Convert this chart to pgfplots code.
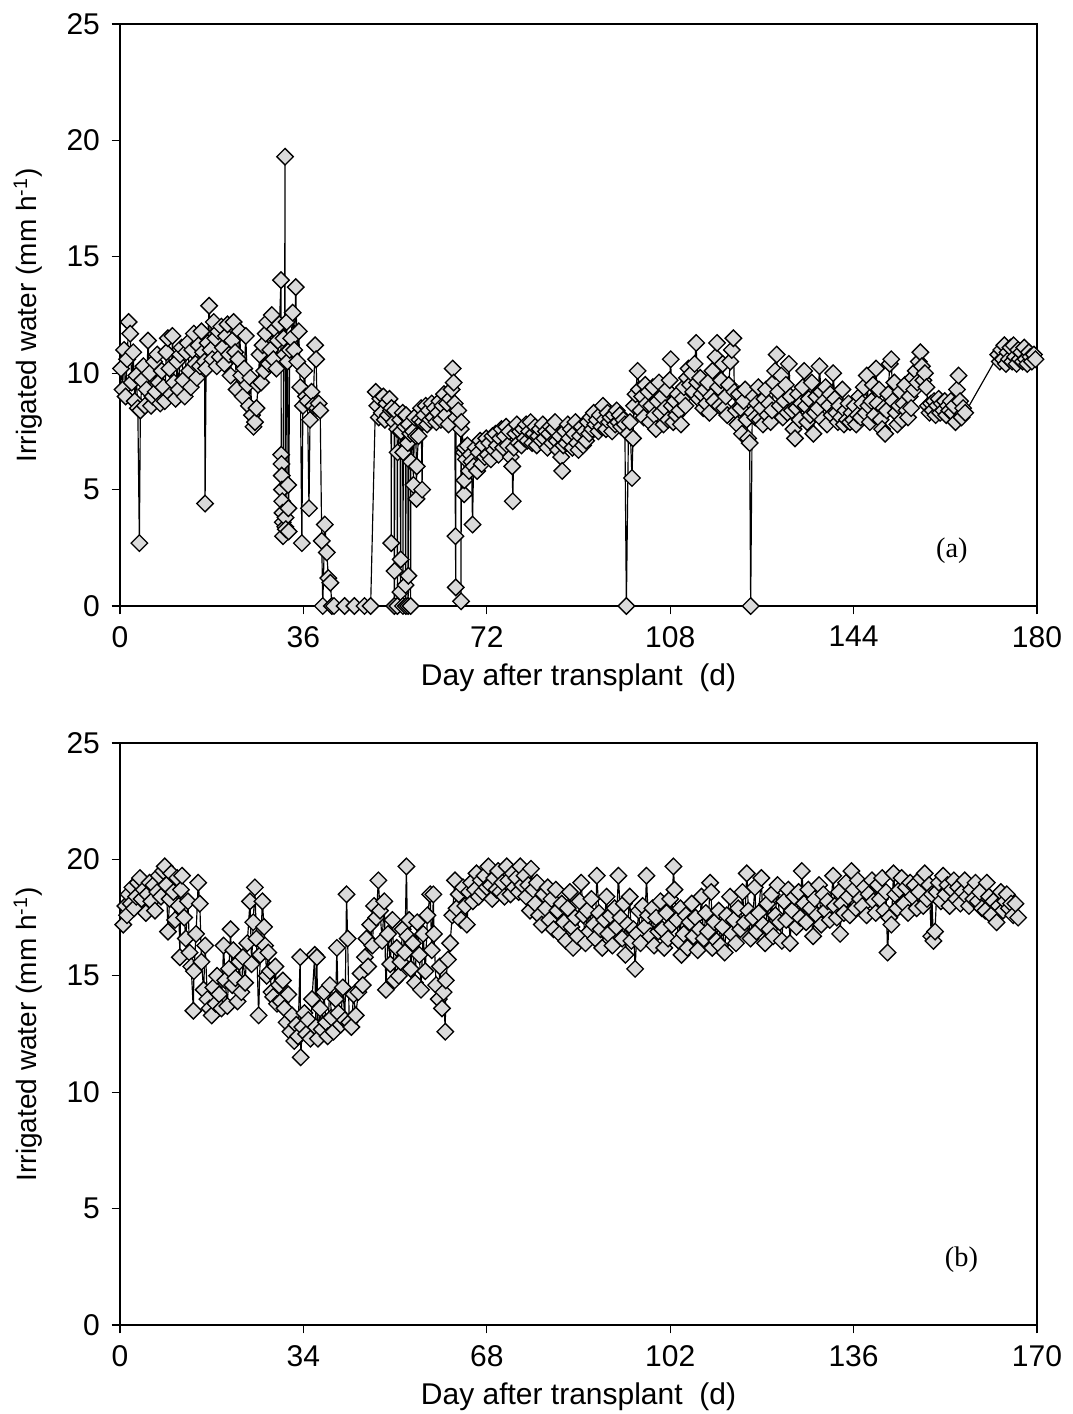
\documentclass[border=0pt]{standalone}
\usepackage{fontspec}
\setmainfont{Liberation Sans}
\newfontfamily\timesfont{Liberation Serif}
\usepackage{pgfplots}
\pgfplotsset{compat=1.18}
\definecolor{mk}{HTML}{DADADA}
\pgfplotsset{
  panel/.style={
    scale only axis, width=275.1pt, height=174.6pt,
    xmin=0, ymin=0, ymax=25, ytick={0,5,...,25},
    tick align=outside, xtick pos=bottom, ytick pos=left,
    major tick length=2.5pt,
    axis line style={line width=0.4pt},
    tick style={line width=0.4pt, black},
    ticklabel style={font=\fontsize{9}{10}\selectfont},
    /pgf/number format/assume math mode=true,
    xlabel={Day after transplant\ \ (d)},
    ylabel={Irrigated water (mm h\textsuperscript{-1})},
    xlabel style={font=\fontsize{9}{10}\selectfont, inner sep=0pt, at={(axis description cs:0.5,-0.1237)}, anchor=center},
    ylabel style={font=\fontsize{8.4}{10}\selectfont, inner sep=0pt, at={(axis description cs:-0.1003,0.5)}, anchor=center},
    clip=false,
  },
  series/.style={black, line width=0.35pt, mark=square*, mark size=1.75pt,
    mark options={rotate=45, fill=mk, draw=black, line width=0.4pt}},
}
\begin{document}
\begin{tikzpicture}
\useasboundingbox (-36pt,7.2pt) rectangle (285.9pt,-417pt);
% (a)
\begin{axis}[panel, at={(0,0)}, anchor=north west, xmax=180, xtick={0,36,...,180}]
\addplot[series] coordinates {
(0.2,10.2)(0.5,9.3)(0.8,11.0)(1.1,9.0)(1.4,10.6)(1.7,12.2)(2.0,11.7)(2.3,9.6)(2.6,10.9)(2.9,8.8)(3.2,9.9)(3.5,8.5)(3.8,2.7)(4.0,8.4)(4.3,9.7)(4.6,10.3)(4.9,8.6)(5.2,9.3)(5.5,11.4)(5.8,10.0)(6.1,8.6)(6.4,9.0)(6.7,10.5)(7.0,9.2)(7.3,10.8)(7.6,9.6)(7.9,8.7)(8.2,10.1)(8.5,9.4)(8.8,8.8)(9.1,10.9)(9.4,11.5)(9.7,10.2)(10.0,9.1)(10.3,11.6)(10.6,9.6)(10.9,8.9)(11.2,10.5)(11.5,9.3)(11.8,10.8)(12.1,11.1)(12.4,9.7)(12.7,9.0)(13.0,10.9)(13.3,11.3)(13.6,10.1)(13.9,9.4)(14.2,11.0)(14.5,11.7)(14.8,10.4)(15.1,9.8)(15.4,11.2)(15.7,10.3)(16.0,11.8)(16.3,10.9)(16.6,10.5)(16.7,4.4)(16.9,10.2)(17.2,11.3)(17.5,12.9)(17.8,11.0)(18.1,10.6)(18.4,12.2)(18.7,11.5)(19.0,10.3)(19.3,11.8)(19.6,10.7)(19.9,12.0)(20.2,11.1)(20.5,10.4)(20.8,11.6)(21.1,12.1)(21.4,10.8)(21.7,9.9)(22.0,11.4)(22.3,12.2)(22.6,10.9)(22.9,9.3)(23.2,10.6)(23.5,11.8)(23.8,9.9)(24.1,9.0)(24.4,10.2)(24.7,11.6)(25.0,9.5)(25.3,8.6)(25.6,9.8)(25.9,8.2)(26.2,7.7)(26.5,7.9)(26.8,8.5)(27.1,9.5)(27.4,10.8)(27.7,9.6)(28.0,11.2)(28.3,10.1)(28.6,11.7)(28.9,12.2)(29.2,10.4)(29.5,11.0)(29.8,12.5)(30.1,10.6)(30.4,11.9)(30.7,10.2)(31.0,11.4)(31.3,12.1)
(31.6,14.0)(31.65,6.5)(31.7,6.1)(31.75,5.6)(31.8,5.0)(31.85,4.5)(31.9,4.0)(31.95,3.6)(32.0,3.0)(32.1,11.5)(32.3,10.8)(32.4,19.3)(32.45,3.4)(32.5,3.8)(32.55,3.3)(32.7,12.2)(32.9,10.5)(33.0,5.2)(33.05,4.2)(33.1,3.2)(33.3,11.0)(33.6,11.5)(33.9,12.6)(34.2,11.0)(34.5,13.7)(34.8,10.5)(35.1,11.8)(35.4,9.4)(35.7,2.7)(35.9,8.6)(36.2,10.1)(36.5,9.0)(36.8,8.8)(37.1,4.2)(37.3,8.0)(37.6,9.2)(37.9,8.6)
(38.3,11.2)(38.5,10.6)(38.7,8.5)(39.0,8.7)(39.3,8.4)(39.6,2.8)(39.8,0.0)(40.2,3.5)(40.6,2.3)(40.9,1.2)(41.3,1.0)(41.6,0.0)(42.0,0.0)(44.1,0.0)(46.0,0.0)(48.0,0.0)(49.2,0.0)
(50.2,9.2)(50.5,8.6)(50.8,8.1)(51.1,8.9)(51.4,8.3)(51.7,9.0)(52.0,8.0)(52.3,8.7)(52.6,8.2)(52.9,8.9)(53.2,8.4)(53.25,2.7)(53.3,8.5)(53.8,7.9)(53.85,0.0)(53.9,1.5)(53.95,8.4)(54.4,7.6)(54.45,0.0)(54.5,6.6)(55.0,8.0)(55.05,0.6)(55.1,2.0)(55.15,7.5)(55.5,8.3)(55.55,0.0)(55.6,6.6)(56.0,7.7)(56.05,0.9)(56.1,0.0)(56.15,8.2)(56.5,7.0)(56.55,0.0)(56.6,1.3)(56.65,7.8)(57.0,7.4)(57.05,0.0)(57.1,6.2)(57.5,7.5)(57.6,5.2)(57.8,8.1)(58.1,7.3)(58.2,4.6)(58.25,6.0)(58.6,7.3)
(58.8,8.0)(59.1,8.5)(59.3,5.0)(59.4,7.9)(59.7,8.2)(60.0,8.6)(60.3,7.8)(60.6,8.4)(60.9,8.0)(61.2,8.7)(61.5,8.1)(61.8,8.5)(62.1,7.9)(62.4,8.3)(62.7,8.8)(63.0,8.0)(63.3,8.6)(63.6,9.1)(63.9,8.2)(64.2,8.7)(64.5,7.8)(64.8,8.9)(65.1,9.3)(65.3,10.2)(65.5,9.6)(65.7,8.7)(65.85,3.0)(65.9,0.8)(65.95,8.1)(66.4,8.4)(66.9,7.6)(66.95,0.2)(67.0,7.9)(67.5,6.6)(67.55,4.8)(67.6,5.4)(67.65,6.8)(67.9,6.3)(68.2,6.9)(68.5,5.8)(68.8,6.5)
(69.0,6.2)(69.2,3.5)(69.4,6.0)(69.8,6.8)(70.1,5.8)(70.4,6.6)(70.7,7.1)(71.0,6.1)(71.3,6.9)(71.6,6.4)(71.9,7.2)(72.2,6.5)(72.5,7.0)(72.8,6.3)(73.1,7.3)(73.4,6.7)(73.7,7.4)(74.0,6.9)(74.3,6.5)(74.6,7.2)(74.9,7.6)(75.2,6.8)(75.5,7.3)(75.8,7.7)(76.1,6.9)(76.4,7.5)(76.7,6.4)(77.0,6.0)(77.1,4.5)(77.3,6.8)(77.6,7.4)(77.9,7.8)(78.2,7.0)(78.5,7.5)(78.8,6.9)(79.1,7.6)(79.4,7.2)(79.7,7.8)(80.0,7.1)(80.3,7.5)(80.6,7.9)(80.9,7.0)(81.2,7.4)(81.5,7.7)(81.8,6.9)(82.1,7.3)(82.4,7.6)(82.7,7.1)(83.0,7.8)(83.3,7.2)(83.6,7.5)(83.9,6.8)(84.2,7.4)(84.5,7.7)(84.8,7.0)(85.1,7.6)(85.4,7.9)(85.7,7.1)(86.0,6.7)(86.3,7.3)(86.6,6.4)(86.8,5.8)(87.0,6.9)(87.3,7.5)(87.6,7.0)(87.9,7.8)(88.2,7.2)(88.5,7.6)(88.8,6.8)(89.1,7.4)(89.4,7.9)(89.7,7.0)(90.0,6.7)(90.3,7.3)(90.6,7.7)(90.9,6.9)(91.2,7.5)(91.5,7.1)(91.8,7.9)(92.1,7.4)(92.4,8.1)(92.7,7.6)(93.0,8.3)(93.3,7.8)(93.6,8.0)(93.9,7.5)(94.2,8.2)(94.5,7.7)(94.8,8.6)(95.1,8.0)(95.4,7.6)(95.7,8.3)(96.0,7.9)(96.3,8.1)(96.6,7.5)(96.9,8.2)(97.2,7.8)(97.5,8.4)(97.8,7.9)(98.1,8.2)(98.4,7.7)(98.8,8.0)(99.1,7.8)(99.4,0.0)(99.8,7.4)(100.1,7.9)(100.5,5.5)(100.7,7.2)(100.9,8.6)(101.2,9.1)(101.6,10.1)
(101.9,9.3)(102.2,8.4)(102.5,9.0)(102.8,8.1)(103.1,9.5)(103.4,8.7)(103.7,9.2)(104.0,7.9)(104.3,8.6)(104.6,9.4)(104.9,8.2)(105.2,7.6)(105.5,8.8)(105.8,9.6)(106.1,8.3)(106.4,9.0)(106.7,7.8)(107.0,8.5)(107.3,9.3)(107.6,8.0)(107.9,9.7)(108.1,10.6)(108.3,8.6)(108.6,7.9)(108.9,8.8)(109.2,8.2)(109.5,9.1)(109.8,8.4)(110.1,7.8)(110.4,8.9)(110.7,9.4)(111.0,8.6)(111.3,9.8)(111.6,10.2)(111.9,9.5)(112.2,10.0)(112.5,9.2)(112.8,10.4)(113.1,11.3)(113.3,9.6)(113.6,8.9)(113.9,9.8)(114.2,9.1)(114.5,8.5)(114.8,9.3)(115.1,8.7)(115.4,9.6)(115.7,8.3)(116.0,9.0)(116.3,10.1)(116.6,8.8)(116.9,10.7)(117.2,11.3)(117.4,9.4)(117.7,8.6)(118.0,9.7)(118.3,10.4)(118.6,8.5)(118.9,9.0)(119.2,8.2)(119.5,9.5)(119.8,10.5)(120.1,11.0)(120.4,11.5)(120.6,9.2)(120.9,8.4)(121.2,7.8)(121.5,9.1)(121.8,8.5)(122.1,7.4)(122.4,8.8)(122.7,9.3)(123.0,8.0)(123.3,7.2)(123.6,7.0)(123.8,0.0)
(124.1,8.3)(124.4,9.0)(124.7,8.1)(125.0,8.7)(125.3,9.4)(125.6,8.0)(125.9,8.5)(126.2,7.8)(126.5,8.9)(126.8,9.3)(127.1,8.2)(127.4,8.7)(127.7,7.9)(128.0,8.4)(128.3,9.6)(128.6,10.1)(128.9,10.8)(129.2,9.2)(129.5,8.6)(129.8,9.9)(130.1,8.1)(130.4,8.8)(130.7,9.5)(131.0,8.3)(131.3,10.4)(131.6,9.0)(131.9,8.4)(132.2,7.6)(132.5,7.2)(132.8,8.5)(133.1,9.1)(133.4,8.0)(133.7,8.7)(134.0,9.4)(134.3,10.1)(134.6,8.6)(134.9,7.9)(135.2,8.9)(135.5,8.2)(135.8,9.6)(136.1,7.4)(136.4,8.3)(136.7,9.0)(137.0,8.5)(137.3,10.3)(137.6,9.2)(137.9,8.0)(138.2,8.8)(138.5,9.4)(138.8,7.8)(139.1,8.6)(139.4,9.1)(139.7,8.2)(140.0,10.0)(140.3,8.9)(140.6,8.3)(140.9,7.9)(141.2,8.6)(141.5,8.1)(141.8,9.3)(142.1,7.8)(142.4,8.4)(142.7,8.0)(143.0,8.7)(143.3,7.9)(143.6,8.3)(143.9,8.0)(144.2,8.6)(144.5,7.8)(144.8,8.2)(145.1,9.0)(145.4,8.1)(145.7,8.7)(146.0,9.4)(146.3,8.3)(146.6,9.9)(146.9,8.6)(147.2,7.9)(147.5,8.8)(147.8,9.5)(148.1,8.2)(148.4,10.2)(148.7,8.7)(149.0,9.3)(149.3,8.0)(149.6,7.6)(149.9,8.5)(150.2,7.4)(150.5,8.4)(150.8,9.1)(151.1,10.4)(151.4,10.6)(151.7,8.8)(152.0,9.6)(152.3,8.3)(152.6,7.8)(152.9,8.6)(153.2,9.2)(153.5,8.0)(153.8,8.7)(154.1,9.5)(154.4,8.4)(154.7,8.1)(155.0,9.0)(155.3,8.5)(155.6,9.8)(155.9,9.3)(156.2,10.1)(156.5,9.6)(156.8,10.5)(157.1,10.9)(157.4,10.3)(157.7,9.7)(158.0,10.0)(158.3,9.4)(158.6,8.6)(158.9,8.3)(159.2,8.7)(159.5,8.4)(159.8,8.8)(160.1,8.2)(160.4,8.6)(160.7,8.9)(161.0,8.3)(161.3,8.7)(161.6,8.4)(161.9,8.8)(162.2,8.2)(162.5,8.6)(162.8,8.4)(163.1,8.8)(163.4,8.3)(163.7,8.6)(164.0,7.9)(164.3,9.3)(164.6,9.9)(164.9,8.8)(165.2,8.1)(165.5,8.5)(165.9,8.3)
(172.4,10.8)(172.7,10.5)(173.0,11.0)(173.3,10.6)(173.6,11.2)(173.9,10.4)(174.2,10.9)(174.5,10.6)(174.8,11.1)(175.1,10.5)(175.4,11.2)(175.7,10.7)(176.0,10.4)(176.3,11.0)(176.6,10.6)(176.9,10.9)(177.2,10.5)(177.5,11.1)(177.8,10.6)(178.1,10.4)(178.4,10.9)(178.7,10.7)(179.0,10.5)(179.4,10.8)(179.7,10.6)
};
\draw[line width=0.8pt] (rel axis cs:0,0) -- (rel axis cs:0,1);
\node[font=\timesfont\fontsize{8.5}{9}\selectfont] at (axis cs:163.3,2.36) {(a)};
\end{axis}
% (b)
\begin{axis}[panel, at={(0,-215.7pt)}, anchor=north west, xmax=170, xtick={0,34,...,170}]
\addplot[series] coordinates {
(0.6,17.2)(1.0,18.0)(1.3,17.6)(1.6,18.5)(2.0,18.1)(2.3,18.8)(2.6,17.9)(3.0,18.4)(3.3,19.0)(3.7,19.2)(4.0,18.3)(4.4,18.7)(4.8,17.7)(5.1,18.5)(5.5,19.0)(5.8,18.2)(6.2,18.9)(6.5,17.8)(6.9,18.6)(7.2,19.3)(7.6,18.4)(8.0,19.5)(8.3,19.7)(8.6,18.9)(8.9,16.9)(9.2,18.3)(9.5,19.4)(9.9,18.6)(10.2,17.4)(10.6,19.2)(10.9,18.0)(11.1,15.8)(11.3,18.7)(11.5,19.3)(11.9,17.5)(12.2,16.6)(12.6,18.2)(12.9,16.0)(13.2,15.4)(13.6,13.5)(13.7,15.2)(14.1,16.8)(14.5,19.0)(14.8,18.1)(15.1,15.6)(15.5,14.4)(15.8,16.3)(16.2,14.0)(16.6,13.6)(17.0,13.3)(17.3,14.5)(17.7,13.8)(18.0,15.0)(18.4,14.2)(18.8,13.6)(19.2,16.3)(19.5,14.8)(19.9,13.7)(20.2,15.3)(20.5,17.0)(20.8,14.6)(21.0,16.1)(21.4,14.9)(21.8,13.9)(22.1,15.6)(22.5,14.3)(22.8,15.8)(23.2,14.7)(23.6,16.4)(24.1,18.2)(24.4,15.5)(24.7,17.3)(25.0,18.8)(25.3,16.6)(25.7,13.3)(26.0,15.9)(26.4,18.2)(26.7,17.1)(26.9,16.3)(27.2,15.0)(27.5,16.0)(27.8,15.2)(28.1,14.3)(28.4,14.1)(28.8,15.4)(29.1,13.8)(29.5,14.6)(29.8,13.9)(30.2,14.8)(30.5,13.6)(30.9,13.0)(31.2,14.2)(31.6,12.6)(31.9,13.3)(32.3,12.2)(32.7,12.9)(33.0,12.4)(33.4,15.8)(33.5,11.5)(33.8,12.8)(34.2,13.4)(34.5,12.5)(34.9,13.1)(35.3,12.3)(35.6,14.0)(36.1,15.9)(36.3,12.8)(36.5,15.8)(36.7,12.3)(37.1,13.6)(37.4,12.7)(37.8,14.3)(38.2,13.0)(38.5,12.4)(38.9,14.6)(39.2,13.2)(39.6,12.6)(40.0,14.0)(40.2,16.2)(40.5,13.4)(40.9,12.9)(41.3,14.5)(41.7,13.1)(42.0,18.5)(42.2,16.6)(42.5,13.0)(42.9,12.8)(43.3,14.2)(43.7,13.3)(44.2,14.3)(44.6,15.1)(45.0,14.6)(45.4,15.8)(45.7,16.6)(46.0,15.4)(46.4,17.2)(46.8,16.3)(47.1,18.0)(47.5,17.5)(47.9,19.1)(48.2,17.8)(48.6,16.5)(49.0,18.2)(49.3,14.4)(49.7,16.8)(50.1,15.5)(50.5,17.4)(50.9,14.8)(51.3,16.2)(51.7,15.0)(52.0,15.6)(52.4,17.0)(52.8,16.0)(53.1,19.7)(53.3,16.7)(53.6,17.4)(53.9,15.3)(54.3,16.4)(54.7,14.7)(55.1,17.3)(55.5,15.9)(55.8,14.4)(56.2,16.8)(56.6,15.2)(57.0,17.6)(57.5,18.5)(57.8,16.1)(58.1,18.5)(58.2,16.8)(58.6,14.6)(59.1,14.0)(59.3,15.4)(59.7,13.6)(60.0,14.3)(60.3,12.6)(60.4,14.8)(60.8,15.7)(61.2,16.4)(61.6,17.6)(62.1,19.1)(62.4,17.9)(62.8,18.5)(63.2,17.4)(63.6,18.8)(64.0,18.0)(64.3,17.2)(64.7,18.6)(65.1,19.0)(65.4,18.2)(65.8,18.7)(66.1,19.4)(66.5,18.4)(66.9,19.1)(67.2,18.6)(67.6,19.3)(68.0,18.8)(68.3,19.7)(68.7,18.9)(69.0,18.3)(69.4,19.2)(69.8,18.7)(70.1,19.5)(70.5,18.6)(70.9,19.0)(71.3,18.4)(71.7,19.7)(72.0,19.1)(72.4,18.5)(72.8,19.4)(73.1,18.8)(73.5,19.2)(73.9,18.6)(74.2,19.7)(74.6,18.9)(75.0,19.3)(75.3,18.4)(75.7,18.9)(76.0,17.8)(76.2,19.6)(76.6,18.7)(77.0,18.1)(77.3,19.0)(77.7,17.6)(78.2,17.2)(78.5,18.5)(78.9,17.9)(79.3,18.8)(79.6,17.4)(80.0,18.3)(80.4,17.0)(80.8,18.7)(81.1,17.8)(81.5,16.8)(81.9,18.1)(82.3,17.3)(82.7,16.5)(83.0,17.9)(83.4,18.6)(83.7,17.1)(84.0,16.2)(84.4,17.5)(84.8,16.7)(85.2,18.2)(85.5,19.0)(85.9,17.6)(86.3,16.4)(86.6,17.8)(87.0,16.9)(87.4,18.3)(87.8,17.2)(88.1,16.6)(88.4,19.3)(88.8,17.7)(89.1,17.0)(89.4,16.2)(89.8,17.4)(90.2,18.4)(90.5,16.8)(90.9,17.6)(91.3,16.3)(91.7,17.9)(92.0,17.1)(92.4,19.3)(92.8,17.5)(93.1,16.6)(93.4,18.1)(93.7,15.9)(94.1,17.2)(94.5,18.4)(94.8,16.5)(95.2,17.0)(95.5,15.3)(95.8,16.8)(96.2,17.8)(96.5,16.4)(96.9,18.0)(97.3,17.1)(97.6,19.3)(97.9,17.6)(98.3,16.7)(98.7,17.9)(99.0,16.3)(99.4,17.5)(99.8,16.9)(100.2,18.2)(100.5,17.0)(100.9,16.2)(101.3,17.7)(101.6,16.6)(102.0,18.3)(102.3,17.2)(102.6,19.7)(102.8,18.7)(103.2,17.4)(103.6,16.5)(103.9,17.9)(104.1,15.9)(104.5,16.8)(104.9,17.6)(105.2,16.2)(105.6,17.3)(106.0,18.1)(106.3,16.7)(106.7,17.5)(107.1,16.1)(107.4,17.0)(107.8,18.4)(108.2,16.6)(108.6,17.7)(109.0,16.9)(109.4,19.0)(109.6,18.6)(109.8,16.2)(110.2,17.3)(110.6,16.5)(111.0,17.8)(111.3,16.3)(111.7,17.1)(112.1,16.0)(112.5,17.6)(113.1,18.4)(113.4,16.8)(113.8,17.4)(114.2,16.4)(114.6,17.9)(115.0,17.0)(115.4,18.6)(115.8,17.3)(116.2,19.4)(116.5,17.8)(116.9,16.6)(117.3,17.5)(117.7,18.8)(118.0,16.9)(118.4,17.7)(118.9,19.2)(119.2,17.2)(119.6,16.4)(120.0,18.1)(120.4,17.0)(120.8,18.5)(121.1,16.7)(121.5,17.6)(121.9,18.9)(122.3,17.3)(122.7,16.5)(123.1,18.2)(123.5,17.4)(123.9,18.7)(124.2,16.4)(124.6,17.8)(125.0,18.4)(125.4,17.1)(125.8,18.6)(126.1,17.5)(126.4,19.5)(126.8,18.1)(127.2,17.3)(127.6,18.7)(128.0,17.9)(128.5,16.7)(128.8,18.3)(129.2,17.6)(129.6,18.9)(130.0,17.2)(130.4,18.5)(130.8,17.8)(131.2,18.2)(131.6,17.4)(132.2,19.3)(132.5,18.0)(132.9,17.5)(133.3,18.6)(133.5,16.8)(133.8,18.1)(134.2,17.7)(134.6,19.0)(135.0,18.4)(135.3,17.6)(135.6,19.5)(136.0,18.7)(136.4,17.9)(136.8,19.1)(137.2,18.3)(137.6,18.0)(138.0,18.8)(138.4,17.6)(138.8,18.5)(139.4,19.1)(139.7,18.2)(140.1,17.7)(140.5,18.9)(140.9,18.3)(141.3,19.2)(141.7,17.8)(142.0,18.6)(142.3,16.0)(142.6,17.5)(143.0,17.2)(143.4,19.4)(143.7,18.5)(144.1,17.9)(144.5,18.7)(144.9,19.2)(145.3,18.1)(145.7,18.8)(146.1,17.7)(146.5,19.0)(146.9,18.4)(147.3,18.9)(147.7,17.9)(148.1,18.6)(148.5,19.2)(148.9,18.0)(149.2,19.4)(149.6,18.3)(150.0,18.9)(150.4,16.7)(150.5,18.5)(150.8,16.5)(151.1,16.9)(151.4,18.6)(151.8,19.0)(152.2,18.2)(152.6,19.3)(153.0,18.5)(153.4,18.9)(153.8,18.0)(154.2,18.7)(154.6,19.1)(155.0,18.3)(155.4,18.8)(155.8,18.1)(156.2,18.6)(156.6,19.1)(157.0,18.4)(157.4,18.0)(157.8,18.7)(158.2,18.3)(158.6,19.0)(159.0,18.2)(159.4,18.6)(159.8,17.9)(160.4,17.8)(160.7,19.0)(161.1,18.4)(161.5,17.6)(161.9,18.2)(162.5,17.3)(162.9,18.0)(163.3,18.6)(163.7,17.8)(164.1,18.2)(164.4,18.5)(164.8,17.9)(165.2,18.1)(165.6,17.6)(166.0,18.1)(166.5,17.5)
};
\draw[line width=0.8pt] (rel axis cs:0,0) -- (rel axis cs:0,1);
\node[font=\timesfont\fontsize{8.5}{9}\selectfont] at (axis cs:156.0,2.82) {(b)};
\end{axis}
\end{tikzpicture}
\end{document}
